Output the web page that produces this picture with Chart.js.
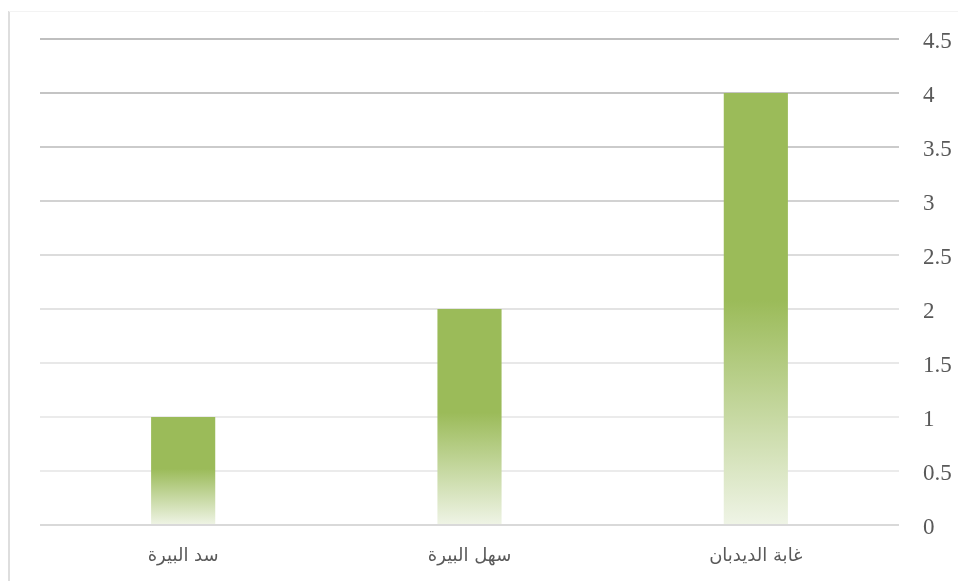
<!DOCTYPE html>
<html>
<head>
<meta charset="utf-8">
<script src="https://cdn.jsdelivr.net/npm/chart.js@4/dist/chart.umd.min.js"></script>
<style>
  html, body { margin: 0; padding: 0; background: #ffffff; }
  #wrap { width: 958px; height: 581px; position: relative; }
</style>
</head>
<body>
<div id="wrap"><canvas id="c" width="958" height="581"></canvas></div>
<script>
// Categories in reading order (right to left)
const categories = ['غابة الديدبان', 'سهل البيرة', 'سد البيرة'];
const values = [4, 2, 1];
const yTicks = [0, 0.5, 1, 1.5, 2, 2.5, 3, 3.5, 4, 4.5];
const gridColors = ['#d9d9d9', '#ebebeb', '#ebebeb', '#e8e8e8', '#e3e3e3', '#dcdcdc', '#d2d2d2', '#cbcbcb', '#c4c4c4', '#bfbfbf'];

const frame = {
  id: 'frame',
  beforeDraw(chart) {
    const ctx = chart.ctx;
    ctx.save();
    ctx.strokeStyle = '#dedede';
    ctx.lineWidth = 2;
    ctx.beginPath();
    ctx.moveTo(9, 11);
    ctx.lineTo(9, 581);
    ctx.stroke();
    ctx.strokeStyle = '#f3f3f3';
    ctx.lineWidth = 1;
    ctx.beginPath();
    ctx.moveTo(9, 11.5);
    ctx.lineTo(958, 11.5);
    ctx.stroke();
    ctx.restore();
  }
};

function barGradient(context) {
  const chart = context.chart;
  if (!chart.chartArea || context.type !== 'data') return '#9BBB59';
  const y = chart.scales.y;
  const top = y.getPixelForValue(context.parsed.y);
  const base = y.getPixelForValue(0);
  if (!isFinite(top) || !isFinite(base) || base - top < 1) return '#9BBB59';
  const g = chart.ctx.createLinearGradient(0, top, 0, base);
  g.addColorStop(0, '#9BBB59');
  g.addColorStop(0.48, '#9BBB59');
  g.addColorStop(1, '#EFF4E6');
  return g;
}

new Chart(document.getElementById('c'), {
  type: 'bar',
  data: {
    labels: categories,
    datasets: [{
      data: values,
      backgroundColor: barGradient,
      borderWidth: 0,
      categoryPercentage: 1,
      barPercentage: 0.224
    }]
  },
  plugins: [frame],
  options: {
    responsive: false,
    animation: false,
    layout: { padding: { left: 40, top: 39, right: 0, bottom: 0 } },
    plugins: { legend: { display: false }, tooltip: { enabled: false } },
    scales: {
      x: {
        reverse: true,
        grid: { display: false, drawTicks: false },
        border: { display: false },
        ticks: {
          padding: 21,
          color: '#595959',
          font: { family: 'DejaVu Sans', size: 18 }
        },
        afterFit(s) { s.height = 56; }
      },
      y: {
        position: 'right',
        min: 0,
        max: 4.5,
        afterBuildTicks(s) { s.ticks = yTicks.map(v => ({ value: v })); },
        grid: {
          drawTicks: false,
          lineWidth: 2,
          color: (c) => gridColors[c.index] || '#e0e0e0'
        },
        border: { display: false },
        ticks: {
          padding: 24,
          labelOffset: 3,
          color: '#595959',
          crossAlign: 'near',
          font: { family: 'Liberation Serif', size: 23 },
          callback: (v) => String(v)
        },
        afterFit(s) { s.width = 59; }
      }
    }
  }
});
</script>
</body>
</html>
